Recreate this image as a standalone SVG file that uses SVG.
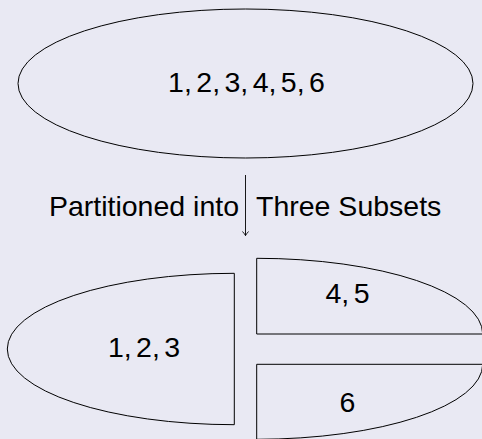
<svg xmlns="http://www.w3.org/2000/svg" width="482" height="439" viewBox="0 0 482 439">
<style>
.shape{fill:none;stroke:#000;stroke-width:1}
.lbl{font-family:"Liberation Sans",Arial,Helvetica,sans-serif;font-size:28.5px;fill:#000}
.num{word-spacing:-3.5px}
.conn{fill:none;stroke:#000;stroke-width:0.9}
</style>
<rect width="482" height="439" fill="#e9e9f3"/>
<g id="set-all">
<ellipse class="shape" cx="245.5" cy="83.5" rx="227.5" ry="74.5"/>
<text class="lbl num" x="246.5" y="92.3" text-anchor="middle">1, 2, 3, 4, 5, 6</text>
</g>
<g id="connectors">
<line class="conn" x1="245.5" y1="175" x2="245.5" y2="235.5"/>
<path class="conn" d="M242.3,231.6 Q244.6,233.3 245.5,235.6 Q246.4,233.3 248.7,231.6"/>
</g>
<g id="edge-label">
<text class="lbl" x="239" y="216" text-anchor="end">Partitioned into</text>
<text class="lbl" x="256" y="216">Three Subsets</text>
</g>
<g id="subset-123">
<path class="shape" d="M234.3,273.3 A227,75.7 0 0 0 234.3,424.7 Z"/>
<text class="lbl num" x="144" y="357.3" text-anchor="middle">1, 2, 3</text>
</g>
<g id="subset-45">
<path class="shape" d="M256.7,258.3 A226,75.7 0 0 1 482.7,334 L256.7,334 Z"/>
<text class="lbl num" x="347.5" y="303.3" text-anchor="middle">4, 5</text>
</g>
<g id="subset-6">
<path class="shape" d="M256.7,364.3 L482.7,364.3 A226,75 0 0 1 256.7,439.3 Z"/>
<text class="lbl" x="347.5" y="411.7" text-anchor="middle">6</text>
</g>
</svg>
